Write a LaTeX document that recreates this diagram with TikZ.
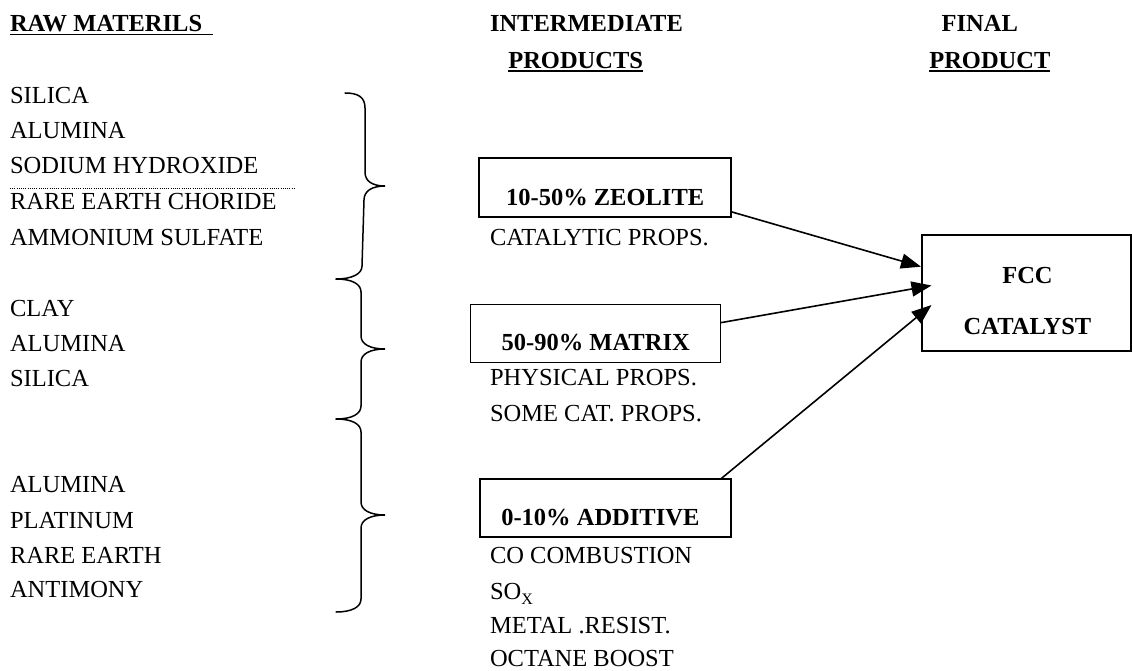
\documentclass[tikz,border=0pt]{standalone}
\usepackage{fontspec}
\setmainfont{Liberation Serif}
\usetikzlibrary{arrows.meta}
\tikzset{
  txt/.style={inner sep=0pt, outer sep=0pt, font=\fontsize{24.5}{29}\selectfont, anchor=base west},
  hdr/.style={txt, font=\fontsize{24.5}{29}\selectfont\bfseries},
  ul/.style={line width=1.3pt},
  brc/.style={line width=1.5pt, line cap=round},
  box/.style={draw, inner sep=0pt, outer sep=0pt, anchor=north west, font=\fontsize{24.5}{29}\selectfont\bfseries},
  arr/.style={line width=1.6pt, -{Triangle[length=20pt,width=15pt]}},
}
\begin{document}
\begin{tikzpicture}[x=1pt,y=-1pt]
\useasboundingbox (0,0) rectangle (1132,671);
% headers
\node[hdr] (raw) at (10,31.7) {RAW MATERILS};
\draw[ul] ([yshift=-2.8pt]raw.base west) -- ++(203,0);
\node[hdr] (inter) at (490,31.7) {INTERMEDIATE};
\node[hdr] (prods) at (508.3,68.3) {PRODUCTS};
\draw[ul] ([yshift=-2.8pt]prods.base west) -- ([yshift=-2.8pt]prods.base east);
\node[hdr] (final) at (941.7,31.7) {FINAL};
\node[hdr] (prod) at (929.3,68.3) {PRODUCT};
\draw[ul] ([yshift=-2.8pt]prod.base west) -- ([yshift=-2.8pt]prod.base east);
% raw materials group 1
\node[txt] (r1) at (10,104) {SILICA};
\node[txt] (r2) at (10,138.8) {ALUMINA};
\node[txt] (r3) at (10,174) {SODIUM HYDROXIDE};
\node[txt] (r4) at (10,210) {RARE EARTH CHORIDE};
\node[txt] (r5) at (10,245.2) {AMMONIUM SULFATE};
\coordinate (d1) at (10,188.7);
\coordinate (d2) at (295,188.7);
\draw[line width=0.8pt, dash pattern=on 1pt off 1.2pt] (d1) -- (d2);
% group 2
\node[txt] (c1) at (10,316.7) {CLAY};
\node[txt] (c2) at (10,351) {ALUMINA};
\node[txt] (c3) at (10,386.7) {SILICA};
% group 3
\node[txt] (a1) at (10,492.7) {ALUMINA};
\node[txt] (a2) at (10,528.3) {PLATINUM};
\node[txt] (a3) at (10,563.3) {RARE EARTH};
\node[txt] (a4) at (10,597.7) {ANTIMONY};
% braces
\draw[brc] (345,93) .. controls (358,93) and (365,97) .. (365,108) -- (365,172)
  .. controls (365,181) and (372,186) .. (385,186)
  .. controls (372,186) and (364,191) .. (364,200) -- (362,266)
  .. controls (362,274) and (352,279) .. (336,279);
\draw[brc] (336,279) .. controls (352,279) and (361,284) .. (361,292) -- (361,336)
  .. controls (361,344) and (370,349) .. (385,349)
  .. controls (370,349) and (361,354) .. (361,362) -- (361,406)
  .. controls (361,414) and (352,419) .. (336,419);
\draw[brc] (336,419) .. controls (352,419) and (361,424) .. (361,432) -- (361,502)
  .. controls (361,510) and (370,515) .. (385,515)
  .. controls (370,515) and (361,520) .. (361,528) -- (361,599)
  .. controls (361,607) and (352,612) .. (336,612);
% intermediate boxes
\node[box, line width=2.2pt, minimum width=251.7pt, text height=47.7pt, text depth=10.7pt] (zeo) at (479.3,158.3) {10-50\% ZEOLITE};
\node[txt] (zp) at (490,245) {CATALYTIC PROPS.};
\node[box, line width=1.3pt, minimum width=250pt, text height=45.7pt, text depth=12.3pt] (mat) at (470.7,304.3) {50-90\% MATRIX};
\node[txt] (mp1) at (490,385) {PHYSICAL PROPS.};
\node[txt] (mp2) at (490,421.5) {SOME CAT. PROPS.};
\node[box, line width=2pt, minimum width=250.7pt, text height=46pt, text depth=11.7pt] (add) at (480,479) {0-10\% ADDITIVE\hspace*{10pt}};
\node[txt] (ap1) at (490,563.3) {CO COMBUSTION};
\node[txt] (ap2) at (490,599) {SO\raisebox{-5pt}{\fontsize{16}{16}\selectfont X}};
\node[txt] (ap3) at (490,633.3) {METAL .RESIST.};
\node[txt] (ap4) at (490,666.5) {OCTANE BOOST};
% final box
\node[box, line width=1.6pt, minimum width=209.3pt, minimum height=115.7pt] (fcc) at (921.7,235) {};
\node[hdr, anchor=base] (fcc1) at (1027.5,283.3) {FCC};
\node[hdr, anchor=base] (fcc2) at (1027.5,334.3) {CATALYST};
% arrows
\coordinate (t1) at (921,266.7);
\coordinate (t2) at (931.5,285.5);
\coordinate (t3) at (931.5,305);
\draw[arr] ([yshift=5pt]zeo.south east) -- (t1);
\draw[arr] ([yshift=-18.4pt]mat.north east) -- (t2);
\draw[arr] ([xshift=-10pt]add.north east) -- (t3);
\end{tikzpicture}
\end{document}
